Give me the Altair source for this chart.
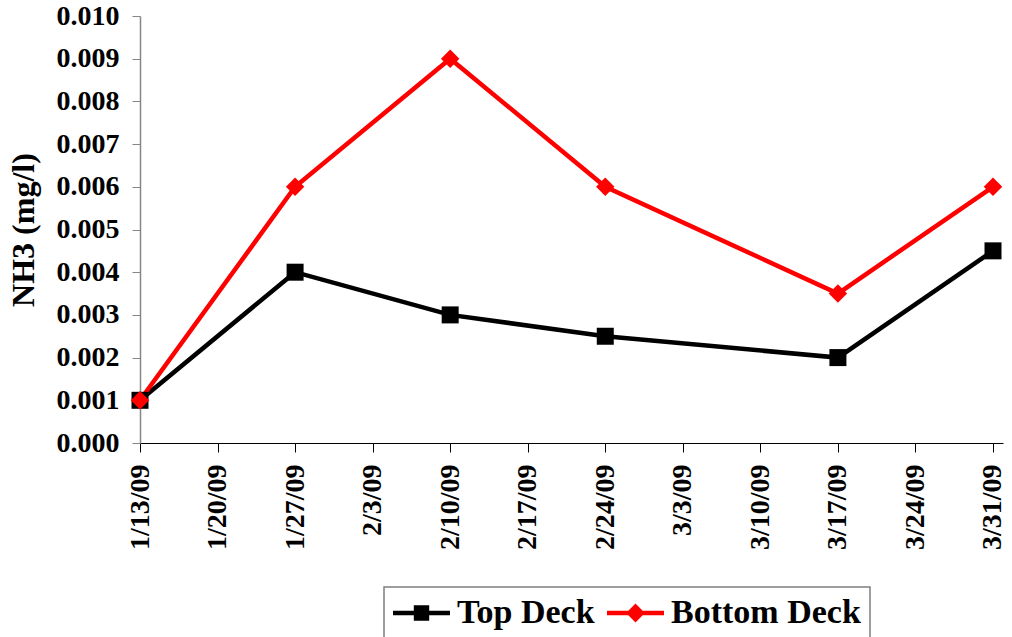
import altair as alt
import pandas as pd

# Sampling dates and NH3 readings (mg/l) for the two decks
dates = ["2009-01-13", "2009-01-27", "2009-02-10", "2009-02-24", "2009-03-17", "2009-03-31"]
top_deck = [0.001, 0.004, 0.003, 0.0025, 0.002, 0.0045]
bottom_deck = [0.001, 0.006, 0.009, 0.006, 0.0035, 0.006]

series_names = ["Top Deck", "Bottom Deck"]
series_colors = ["#000000", "#FF0000"]

# weekly tick dates (month, day) along the x axis
tick_dates = [(1, 13), (1, 20), (1, 27), (2, 3), (2, 10), (2, 17), (2, 24),
              (3, 3), (3, 10), (3, 17), (3, 24), (3, 31)]
y_ticks = [0.000, 0.001, 0.002, 0.003, 0.004, 0.005, 0.006, 0.007, 0.008, 0.009, 0.010]

rows = []
for name, vals in zip(series_names, [top_deck, bottom_deck]):
    for d, v in zip(dates, vals):
        rows.append({"date": d, "value": v, "series": name})
df = pd.DataFrame(rows)

FONT = "Liberation Serif"

# legend glyphs: a horizontal bar with the series marker on it
legend_square = ("M-1,-0.08H1V0.08H-1Z "
                 "M-0.27,-0.27H0.27V0.27H-0.27Z")
legend_diamond = ("M-1,-0.08H1V0.08H-1Z "
                  "M-0.33,0L0,-0.33L0.33,0L0,0.33Z")

x_enc = alt.X(
    "date:T",
    scale=alt.Scale(
        type="utc",
        domain=[alt.DateTime(year=2009, month=1, date=13, utc=True),
                alt.DateTime(year=2009, month=3, date=31, hours=21, minutes=40, utc=True)],
    ),
    axis=alt.Axis(
        title=None,
        values=[alt.DateTime(year=2009, month=m, date=d, utc=True) for m, d in tick_dates],
        format="%-m/%-d/%y",
        labelAngle=-90,
        labelFont=FONT, labelFontWeight="bold", labelFontSize=28, labelColor="#000000",
        labelPadding=12, labelOverlap=False, labelFlush=False,
        tickSize=9, tickColor="#000000", tickWidth=1,
        domainColor="#000000", domainWidth=1.2,
        grid=False,
    ),
)

y_enc = alt.Y(
    "value:Q",
    scale=alt.Scale(domain=[0, 0.010], nice=False, zero=True),
    axis=alt.Axis(
        title="NH3 (mg/l)",
        titleFont=FONT, titleFontWeight="bold", titleFontSize=32, titleColor="#000000",
        titlePadding=16,
        values=y_ticks,
        format=".3f",
        labelFont=FONT, labelFontWeight="bold", labelFontSize=28, labelColor="#000000",
        labelPadding=13,
        tickSize=8, tickColor="#868686", tickWidth=1,
        domainColor="#868686", domainWidth=1.5,
        grid=False,
    ),
)

base = alt.Chart(df)


def series_line(name, color):
    return base.transform_filter(alt.datum.series == name).mark_line(
        strokeWidth=4.5, color=color
    ).encode(x=x_enc, y=y_enc, order="date:T")


top_line = series_line("Top Deck", series_colors[0])
bottom_line = series_line("Bottom Deck", series_colors[1])

squares = base.transform_filter(alt.datum.series == "Top Deck").mark_point(
    shape="square", filled=True, size=289, opacity=1, color=series_colors[0]
).encode(x=x_enc, y=y_enc)

diamonds = base.transform_filter(alt.datum.series == "Bottom Deck").mark_point(
    shape="diamond", filled=True, size=340, opacity=1, color=series_colors[1]
).encode(x=x_enc, y=y_enc)

legend_def = alt.Legend(
    title=None,
    orient="none",
    legendX=244,
    legendY=571,
    direction="horizontal",
)

# invisible points that carry the legend (colour + line-and-marker glyph)
legend_layer = base.mark_point(filled=True, opacity=0).encode(
    x=x_enc,
    y=y_enc,
    color=alt.Color("series:N", scale=alt.Scale(domain=series_names, range=series_colors),
                    legend=legend_def),
    shape=alt.Shape("series:N",
                    scale=alt.Scale(domain=series_names, range=[legend_square, legend_diamond]),
                    legend=legend_def),
)

chart = alt.layer(top_line, bottom_line, squares, diamonds, legend_layer).properties(
    width=863,
    height=427,
    autosize=alt.AutoSizeParams(type="none"),
    padding={"left": 140, "top": 16, "right": 9, "bottom": 194},
    background="#FFFFFF",
).configure_view(
    strokeWidth=0,
).configure_legend(
    labelFont=FONT,
    labelFontWeight="bold",
    labelFontSize=34,
    labelColor="#000000",
    labelOffset=7,
    labelLimit=500,
    symbolSize=3249,
    symbolOpacity=1,
    symbolStrokeWidth=0,
    clipHeight=34,
    columnPadding=12,
    padding=9,
    strokeColor="#7f7f7f",
    strokeWidth=1.5,
    fillColor="#FFFFFF",
    cornerRadius=0,
)

chart.save("out.html", embed_options={"renderer": "svg", "actions": False})
